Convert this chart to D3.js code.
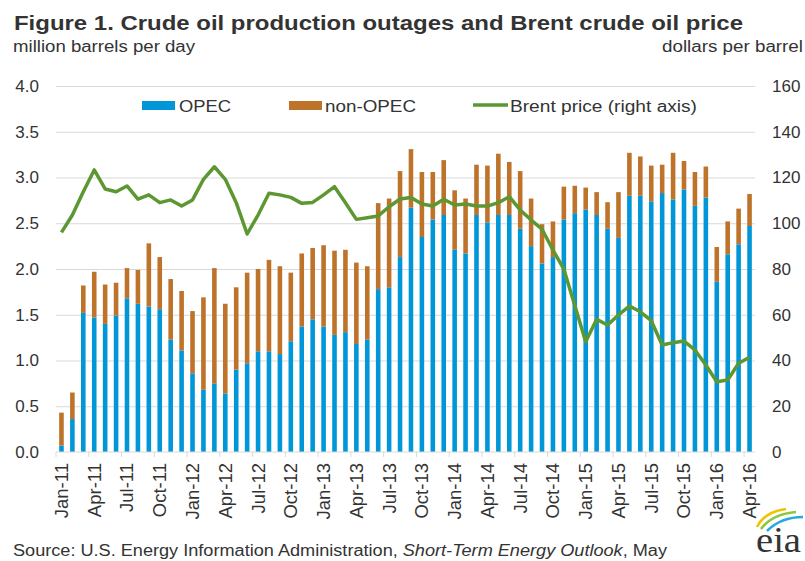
<!DOCTYPE html>
<html>
<head>
<meta charset="utf-8">
<script src="https://cdn.jsdelivr.net/npm/d3@7"></script>
<style>
  body { margin: 0; background: #fff; }
  svg text { font-family: "Liberation Sans", Arial, sans-serif; fill: #333; }
</style>
</head>
<body>
<svg id="chart"></svg>
<script>
// Months on the x axis (Jan-11 .. Apr-16)
const months = [
  "Jan-11","Feb-11","Mar-11","Apr-11","May-11","Jun-11","Jul-11","Aug-11","Sep-11","Oct-11","Nov-11","Dec-11",
  "Jan-12","Feb-12","Mar-12","Apr-12","May-12","Jun-12","Jul-12","Aug-12","Sep-12","Oct-12","Nov-12","Dec-12",
  "Jan-13","Feb-13","Mar-13","Apr-13","May-13","Jun-13","Jul-13","Aug-13","Sep-13","Oct-13","Nov-13","Dec-13",
  "Jan-14","Feb-14","Mar-14","Apr-14","May-14","Jun-14","Jul-14","Aug-14","Sep-14","Oct-14","Nov-14","Dec-14",
  "Jan-15","Feb-15","Mar-15","Apr-15","May-15","Jun-15","Jul-15","Aug-15","Sep-15","Oct-15","Nov-15","Dec-15",
  "Jan-16","Feb-16","Mar-16","Apr-16"
];

const tickLabels = [
  "Jan-11","Apr-11","Jul-11","Oct-11","Jan-12","Apr-12","Jul-12","Oct-12","Jan-13","Apr-13","Jul-13",
  "Oct-13","Jan-14","Apr-14","Jul-14","Oct-14","Jan-15","Apr-15","Jul-15","Oct-15","Jan-16","Apr-16"
];

// OPEC outages, million barrels per day
const opec = [
  0.07, 0.36, 1.52, 1.47, 1.40, 1.49, 1.68, 1.62, 1.59, 1.56, 1.23, 1.11,
  0.86, 0.68, 0.75, 0.64, 0.90, 0.97, 1.10, 1.10, 1.07, 1.21, 1.37, 1.45,
  1.37, 1.28, 1.31, 1.18, 1.23, 1.78, 1.80, 2.13, 2.67, 2.35, 2.54, 2.59,
  2.21, 2.17, 2.59, 2.51, 2.59, 2.59, 2.44, 2.25, 2.06, 2.13, 2.54, 2.61,
  2.65, 2.59, 2.44, 2.34, 2.80, 2.80, 2.74, 2.83, 2.76, 2.87, 2.69, 2.78,
  1.86, 2.16, 2.27, 2.47
];

// non-OPEC outages, million barrels per day
const nonOpec = [
  0.36, 0.29, 0.30, 0.50, 0.43, 0.36, 0.33, 0.37, 0.69, 0.57, 0.66, 0.65,
  0.68, 1.01, 1.26, 0.98, 0.90, 0.99, 0.90, 1.00, 0.96, 0.75, 0.80, 0.78,
  0.89, 0.92, 0.90, 0.89, 0.80, 0.94, 0.97, 0.94, 0.64, 0.71, 0.52, 0.60,
  0.65, 0.60, 0.55, 0.62, 0.67, 0.58, 0.63, 0.52, 0.43, 0.39, 0.36, 0.30,
  0.24, 0.25, 0.29, 0.50, 0.47, 0.43, 0.39, 0.31, 0.51, 0.31, 0.37, 0.34,
  0.38, 0.36, 0.39, 0.35
];

// Brent price, dollars per barrel
const brent = [
  96.0, 103.6, 113.8, 123.3, 115.0, 113.8, 116.3, 110.5, 112.4, 109.0, 110.2, 107.5,
  110.2, 119.2, 124.7, 119.2, 109.0, 95.3, 103.6, 113.1, 112.4, 111.3, 108.7, 109.1,
  112.4, 116.0, 109.0, 101.7, 102.4, 103.2, 107.2, 110.6, 111.3, 108.4, 107.5, 110.5,
  108.0, 108.4, 107.5, 107.5, 109.0, 111.6, 105.8, 101.4, 97.4, 88.3, 79.9, 64.0,
  48.2, 58.0, 55.5, 59.9, 63.8, 61.3, 57.4, 46.8, 47.8, 48.5, 44.6, 38.0,
  30.7, 31.5, 38.8, 41.4
];

const leftTicks = [0, 0.5, 1, 1.5, 2, 2.5, 3, 3.5, 4];
const rightTicks = [0, 20, 40, 60, 80, 100, 120, 140, 160];

// Set the dimensions of the chart
const width = 805,
  height = 561,
  margin = {top: 86, bottom: 109, left: 56, right: 50};

const innerW = width - margin.left - margin.right,
  innerH = height - margin.top - margin.bottom;

const blue = "#0096D7", orange = "#BD732A", green = "#5D9732", grid = "#D9D9D9";

const table = months.map((m, i) => ({month: m, opec: opec[i], nonOpec: nonOpec[i], brent: brent[i]}));
const stacked = d3.stack().keys(["opec", "nonOpec"])(table);

const svg = d3.select("#chart")
  .attr("width", width)
  .attr("height", height);

const g = svg.append("g")
  .attr("transform", `translate(${margin.left}, ${margin.top})`);

// Scales
const x = d3.scaleBand()
  .domain(months)
  .range([0, innerW])
  .paddingInner(0.58)
  .paddingOuter(0.29);

const y = d3.scaleLinear().domain([0, 4]).range([innerH, 0]);
const y2 = d3.scaleLinear().domain([0, 160]).range([innerH, 0]);

// Gridlines
g.append("g")
  .call(d3.axisLeft(y).tickValues(leftTicks.slice(1)).tickSize(-innerW).tickFormat(""))
  .call((a) => a.select(".domain").remove())
  .selectAll("line").attr("stroke", grid);

// Left axis labels
g.append("g")
  .call(d3.axisLeft(y).tickValues(leftTicks).tickSize(0).tickPadding(17).tickFormat(d3.format(".1f")))
  .call((a) => a.select(".domain").remove())
  .selectAll("text").style("font-size", "17px").attr("fill", "#333");

// Right axis labels
g.append("g")
  .attr("transform", `translate(${innerW}, 0)`)
  .call(d3.axisRight(y2).tickValues(rightTicks).tickSize(0).tickPadding(17))
  .call((a) => a.select(".domain").remove())
  .selectAll("text").style("font-size", "17px").attr("fill", "#333");

// Stacked bars
g.append("g")
  .selectAll("g")
  .data(stacked)
  .enter()
  .append("g")
  .attr("fill", (d) => d.key === "opec" ? blue : orange)
  .selectAll("rect")
  .data((d) => d)
  .enter()
  .append("rect")
  .attr("x", (d) => x(d.data.month))
  .attr("width", x.bandwidth())
  .attr("y", (d) => y(d[1]))
  .attr("height", (d) => y(d[0]) - y(d[1]));

// Bottom axis line and tick marks between categories
g.append("line")
  .attr("x1", 0).attr("x2", innerW)
  .attr("y1", innerH).attr("y2", innerH)
  .attr("stroke", grid);

const boundary = (m) => x(m) + x.bandwidth() / 2 - x.step() / 2;
g.append("g")
  .selectAll("line")
  .data(tickLabels)
  .enter()
  .append("line")
  .attr("x1", boundary).attr("x2", boundary)
  .attr("y1", innerH).attr("y2", innerH + 5)
  .attr("stroke", grid);

// Month labels
g.append("g")
  .attr("transform", `translate(0, ${innerH})`)
  .call(d3.axisBottom(x).tickValues(tickLabels).tickSize(0))
  .call((a) => a.select(".domain").remove())
  .selectAll("text")
  .style("font-size", "18.5px")
  .attr("fill", "#333")
  .attr("text-anchor", "end")
  .attr("transform", "rotate(-90)")
  .attr("x", -11)
  .attr("y", 0)
  .attr("dy", "0.35em");

// Brent price line
const line = d3.line()
  .x((d) => x(d.month) + x.bandwidth() / 2)
  .y((d) => y2(d.brent));

g.append("path")
  .datum(table)
  .attr("fill", "none")
  .attr("stroke", green)
  .attr("stroke-width", 3.5)
  .attr("stroke-linejoin", "round")
  .attr("d", line);

// Legend
const legend = svg.append("g");
legend.append("rect").attr("x", 142).attr("y", 101).attr("width", 33).attr("height", 9).attr("fill", blue);
legend.append("text").attr("x", 179).attr("y", 111.5).text("OPEC")
  .style("font-size", "16px").attr("textLength", 52).attr("lengthAdjust", "spacingAndGlyphs");
legend.append("rect").attr("x", 289).attr("y", 101).attr("width", 33).attr("height", 9).attr("fill", orange);
legend.append("text").attr("x", 325).attr("y", 111.5).text("non-OPEC")
  .style("font-size", "16px").attr("textLength", 91).attr("lengthAdjust", "spacingAndGlyphs");
legend.append("line").attr("x1", 473).attr("x2", 508).attr("y1", 105).attr("y2", 105)
  .attr("stroke", green).attr("stroke-width", 3.5);
legend.append("text").attr("x", 510).attr("y", 111.5).text("Brent price (right axis)")
  .style("font-size", "16px").attr("textLength", 187).attr("lengthAdjust", "spacingAndGlyphs");

// Titles
svg.append("text").attr("x", 14).attr("y", 30)
  .text("Figure 1. Crude oil production outages and Brent crude oil price")
  .style("font-size", "20px").style("font-weight", "bold")
  .attr("textLength", 729).attr("lengthAdjust", "spacingAndGlyphs");

svg.append("text").attr("x", 13).attr("y", 52)
  .text("million barrels per day")
  .style("font-size", "16px").attr("textLength", 182).attr("lengthAdjust", "spacingAndGlyphs");

svg.append("text").attr("x", 662).attr("y", 52)
  .text("dollars per barrel")
  .style("font-size", "16px").attr("textLength", 141).attr("lengthAdjust", "spacingAndGlyphs");

// Source note
const src = svg.append("text").attr("x", 13).attr("y", 556).style("font-size", "16px")
  .attr("textLength", 654).attr("lengthAdjust", "spacingAndGlyphs");
src.append("tspan").text("Source: U.S. Energy Information Administration, ");
src.append("tspan").style("font-style", "italic").text("Short-Term Energy Outlook");
src.append("tspan").text(", May");

// eia logo
const logo = svg.append("g");
logo.append("path").attr("d", "M757,527 Q764,512 786,509").attr("fill", "none").attr("stroke", "#F2C200").attr("stroke-width", 2.5);
logo.append("path").attr("d", "M761,529 Q772,514 796,512").attr("fill", "none").attr("stroke", "#8DC63F").attr("stroke-width", 2.5);
logo.append("path").attr("d", "M767,531 Q781,517 803,517").attr("fill", "none").attr("stroke", "#29A9E0").attr("stroke-width", 2.5);
logo.append("text").attr("x", 756).attr("y", 552).text("eia")
  .style("font-family", "'Liberation Serif', 'DejaVu Serif', serif")
  .style("font-size", "36px").attr("fill", "#444")
  .attr("textLength", 45).attr("lengthAdjust", "spacingAndGlyphs");
</script>
</body>
</html>
